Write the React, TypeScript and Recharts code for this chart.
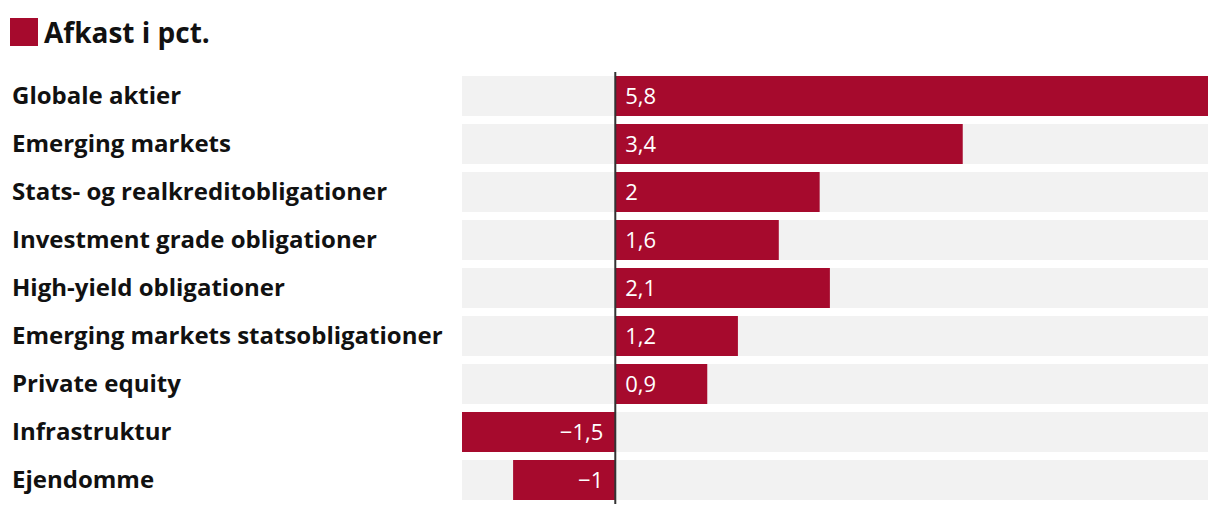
import { BarChart, Bar, XAxis, YAxis, ReferenceLine, LabelList } from "recharts";

const categories = [
  "Globale aktier",
  "Emerging markets",
  "Stats- og realkreditobligationer",
  "Investment grade obligationer",
  "High-yield obligationer",
  "Emerging markets statsobligationer",
  "Private equity",
  "Infrastruktur",
  "Ejendomme",
];
const returns = [5.8, 3.4, 2, 1.6, 2.1, 1.2, 0.9, -1.5, -1];

const RED = "#a60a2d";
const FONT = "'Open Sans', sans-serif";

const data = categories.map((name, i) => ({ name, value: returns[i] }));

// dansk talformat: komma som decimaltegn, rigtigt minustegn
function fmt(v: number) {
  const s = Math.abs(v).toString().replace(".", ",");
  return v < 0 ? "\u2212" + s : s;
}

function CategoryTick({ y, payload }: any) {
  return (
    <text x={12} y={y} dy={8} textAnchor="start" fontFamily={FONT} fontWeight={700} fontSize={24} fill="#111">
      {payload.value}
    </text>
  );
}

function ValueLabel({ x, y, width, height, value }: any) {
  const v = Number(value);
  const left = Math.min(x, x + width);
  const right = Math.max(x, x + width);
  const cy = y + height / 2;
  if (v < 0) {
    return (
      <text x={right - 12} y={cy} dy={8} textAnchor="end" fontFamily={FONT} fontSize={22} fill="#fff">
        {fmt(v)}
      </text>
    );
  }
  return (
    <text x={left + 10} y={cy} dy={8} textAnchor="start" fontFamily={FONT} fontSize={22} fill="#fff">
      {fmt(v)}
    </text>
  );
}

export default function App() {
  return (
    <div style={{ position: "absolute", left: 0, top: 0, width: 1220, height: 510, background: "#fff", fontFamily: FONT }}>
      {/* forklaring */}
      <div style={{ position: "absolute", left: 10, top: 18, display: "flex", alignItems: "center", gap: 6 }}>
        <span style={{ display: "inline-block", width: 28, height: 28, background: RED }} />
        <span style={{ fontWeight: 700, fontSize: 28, color: "#111", lineHeight: "28px" }}>Afkast i pct.</span>
      </div>
      <BarChart
        width={1220}
        height={510}
        data={data}
        layout="vertical"
        margin={{ top: 72, right: 12, bottom: 6, left: 0 }}
        barSize={40}
      >
        <XAxis type="number" domain={[-1.5, 5.8]} hide allowDataOverflow />
        <YAxis
          type="category"
          dataKey="name"
          width={462}
          axisLine={false}
          tickLine={false}
          tick={<CategoryTick />}
          interval={0}
        />
        <Bar dataKey="value" fill={RED} background={{ fill: "#f2f2f2" }} isAnimationActive={false}>
          <LabelList dataKey="value" content={<ValueLabel />} />
        </Bar>
        <ReferenceLine x={0} stroke="#333" strokeWidth={2} />
      </BarChart>
    </div>
  );
}
